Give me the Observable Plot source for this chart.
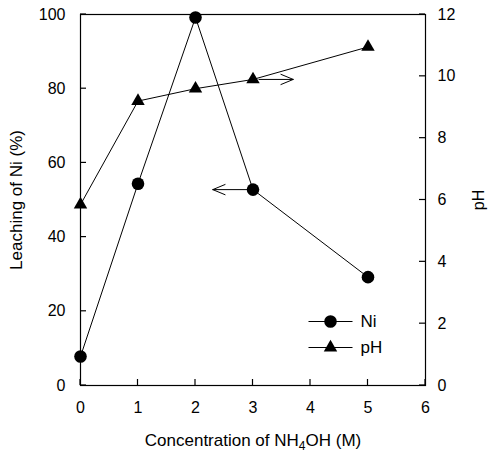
<!DOCTYPE html>
<html>
<head>
<meta charset="utf-8">
<script src="https://cdn.jsdelivr.net/npm/d3@7"></script>
<script src="https://cdn.jsdelivr.net/npm/@observablehq/plot@0.6"></script>
<style>
  html, body { margin: 0; padding: 0; background: #fff; }
  svg { font-family: "Liberation Sans", Arial, sans-serif; }
</style>
</head>
<body>
<div id="chart"></div>
<script>
// Data
const concentration = [0, 1, 2, 3, 5];
const niLeaching = [7.8, 54.4, 99.2, 52.8, 29.2];
const phValues = [5.85, 9.2, 9.6, 9.9, 10.95];
const xTicks = [0, 1, 2, 3, 4, 5, 6];
const leftTicks = [0, 20, 40, 60, 80, 100];
const phTicks = [0, 2, 4, 6, 8, 10, 12];
const arrowNi = [{x1: 3.0, x2: 2.3, y: 52.8}];
const arrowPh = [{x1: 3.0, x2: 3.7, ph: 9.9}];
const legendItems = [{label: "Ni", symbol: "circle", r: 6.3}, {label: "pH", symbol: "triangle", r: 5}];

const PH_MAX = 12, Y_MAX = 100, X_MAX = 6;
const toY = (ph) => ph * Y_MAX / PH_MAX;

const niData = concentration.map((c, i) => ({c, v: niLeaching[i]}));
const phData = concentration.map((c, i) => ({c, v: toY(phValues[i])}));

const lineSymbol = {
  draw(context, size) {
    const r = Math.sqrt(size / Math.PI);
    context.moveTo(-r, 0);
    context.lineTo(r, 0);
  }
};

const W = 488, H = 453, ML = 80, MR = 63, MT = 14, MB = 68;
const TICK = 6;

const legendMarks = legendItems.flatMap((d, i) => {
  const dy = -64 + i * 26;
  return [
    Plot.dot([d], {frameAnchor: "bottom-right", dx: -95, dy, symbol: () => lineSymbol, r: 22, stroke: "#000", strokeWidth: 1, fill: "none"}),
    Plot.dot([d], {frameAnchor: "bottom-right", dx: -95, dy, symbol: d.symbol, r: d.r, fill: "#000"}),
    Plot.text([d], {frameAnchor: "bottom-right", dx: -65, dy, text: "label", textAnchor: "start", lineAnchor: "middle", fontSize: 17})
  ];
});

const chart = Plot.plot({
  width: W,
  height: H,
  marginLeft: ML,
  marginRight: MR,
  marginTop: MT,
  marginBottom: MB,
  style: {fontSize: "16px", fontFamily: "Liberation Sans, Arial, sans-serif", color: "#000", background: "#fff"},
  x: {domain: [0, X_MAX]},
  y: {domain: [0, Y_MAX]},
  marks: [
    Plot.frame({stroke: "#000", strokeWidth: 1.2}),
    // tick labels
    Plot.axisX(xTicks, {anchor: "bottom", tickSize: 0, tickPadding: 16, label: null, tickFormat: d => d, fontSize: 16}),
    Plot.axisY(leftTicks, {anchor: "left", tickSize: 0, tickPadding: 15, label: null, fontSize: 16}),
    Plot.axisY(phTicks.map(toY), {anchor: "right", tickSize: 0, tickPadding: 12, label: null, tickFormat: d => Math.round(d * PH_MAX / Y_MAX), fontSize: 16}),
    // axis titles
    Plot.text(["Leaching of Ni (%)"], {frameAnchor: "left", dx: -64, rotate: -90, textAnchor: "middle", lineAnchor: "middle", fontSize: 17}),
    Plot.text(["pH"], {frameAnchor: "right", dx: 53, rotate: -90, textAnchor: "middle", lineAnchor: "middle", fontSize: 16}),
    Plot.text(["Concentration of NH4OH (M)"], {frameAnchor: "bottom", dy: 55, textAnchor: "middle", lineAnchor: "middle", fontSize: 17}),
    // series
    Plot.line(niData, {x: "c", y: "v", stroke: "#000", strokeWidth: 1}),
    Plot.line(phData, {x: "c", y: "v", stroke: "#000", strokeWidth: 1}),
    Plot.dot(niData, {x: "c", y: "v", r: 6.3, fill: "#000", symbol: "circle"}),
    Plot.dot(phData, {x: "c", y: "v", r: 5, fill: "#000", symbol: "triangle"}),
    // arrows
    Plot.arrow(arrowNi, {x1: "x1", x2: "x2", y1: "y", y2: "y", stroke: "#000", strokeWidth: 1, headLength: 20, headAngle: 45, insetStart: 6}),
    Plot.arrow(arrowPh, {x1: "x1", x2: "x2", y1: d => toY(d.ph), y2: d => toY(d.ph), stroke: "#000", strokeWidth: 1, headLength: 20, headAngle: 45, insetStart: 6}),
    ...legendMarks
  ]
});

// inward tick marks, positioned through the chart's own scales
const sx = chart.scale("x"), sy = chart.scale("y");
const svg = d3.select(chart);
const gt = svg.append("g").attr("stroke", "#000").attr("stroke-width", 1.2);
const x0 = sx.apply(0), x6 = sx.apply(X_MAX), y0 = sy.apply(0);
xTicks.forEach(v => {
  const x = sx.apply(v);
  gt.append("line").attr("x1", x).attr("x2", x).attr("y1", y0).attr("y2", y0 - TICK);
});
leftTicks.forEach(v => {
  const y = sy.apply(v);
  gt.append("line").attr("x1", x0).attr("x2", x0 + TICK).attr("y1", y).attr("y2", y);
});
phTicks.forEach(v => {
  const y = sy.apply(toY(v));
  gt.append("line").attr("x1", x6).attr("x2", x6 - TICK).attr("y1", y).attr("y2", y);
});

// subscript the 4 in NH4OH
chart.querySelectorAll("text").forEach(t => {
  if (t.textContent === "Concentration of NH4OH (M)") {
    t.textContent = "";
    const ns = "http://www.w3.org/2000/svg";
    const a = document.createElementNS(ns, "tspan"); a.textContent = "Concentration of NH";
    const s = document.createElementNS(ns, "tspan"); s.textContent = "4"; s.setAttribute("font-size", "12"); s.setAttribute("dy", "4");
    const b = document.createElementNS(ns, "tspan"); b.textContent = "OH (M)"; b.setAttribute("dy", "-4");
    t.append(a, s, b);
  }
});

document.getElementById("chart").appendChild(chart);
</script>
</body>
</html>
